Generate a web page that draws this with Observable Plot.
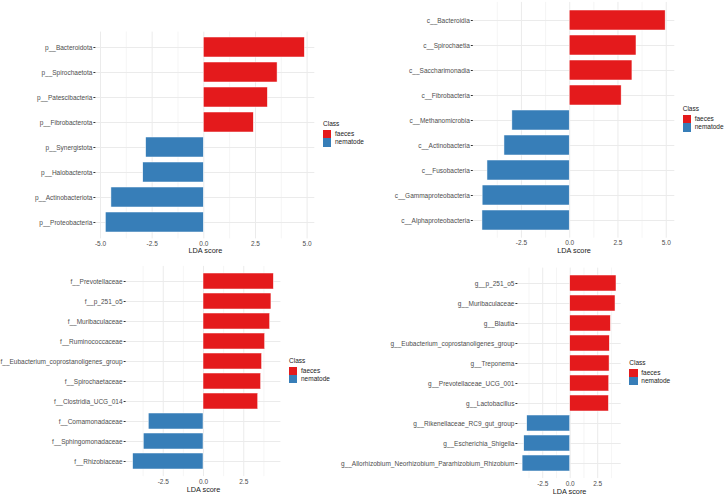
<!DOCTYPE html>
<html>
<head>
<meta charset="utf-8">
<script src="https://cdn.jsdelivr.net/npm/d3@7"></script>
<script src="https://cdn.jsdelivr.net/npm/@observablehq/plot@0.6"></script>
<style>
  html, body { margin: 0; padding: 0; background: #fff; }
  #chart { position: relative; width: 725px; height: 495px; overflow: hidden; font-family: "Liberation Sans", Arial, sans-serif; }
  #chart svg { position: absolute; left: 0; top: 0; }
  .legend { position: absolute; font-size: 6.5px; color: #1a1a1a; font-family: "Liberation Sans", Arial, sans-serif; }
</style>
</head>
<body>
<div id="chart"></div>
<script>
// ---- data ----
const classes = ["faeces", "nematode"];
const classColors = ["#E41A1C", "#377EB8"];

const p1Names = ["p__Bacteroidota","p__Spirochaetota","p__Patescibacteria","p__Fibrobacterota","p__Synergistota","p__Halobacterota","p__Actinobacteriota","p__Proteobacteria"];
const p1Scores = [4.89, 3.57, 3.10, 2.42, -2.79, -2.93, -4.47, -4.74];
const p1Class = ["faeces","faeces","faeces","faeces","nematode","nematode","nematode","nematode"];

const p2Names = ["c__Bacteroidia","c__Spirochaetia","c__Saccharimonadia","c__Fibrobacteria","c__Methanomicrobia","c__Actinobacteria","c__Fusobacteria","c__Gammaproteobacteria","c__Alphaproteobacteria"];
const p2Scores = [4.97, 3.46, 3.25, 2.69, -2.97, -3.38, -4.26, -4.51, -4.52];
const p2Class = ["faeces","faeces","faeces","faeces","nematode","nematode","nematode","nematode","nematode"];

const p3Names = ["f__Prevotellaceae","f__p_251_o5","f__Muribaculaceae","f__Ruminococcaceae","f__Eubacterium_coprostanoligenes_group","f__Spirochaetaceae","f__Clostridia_UCG_014","f__Comamonadaceae","f__Sphingomonadaceae","f__Rhizobiaceae"];
const p3Scores = [4.37, 4.22, 4.14, 3.83, 3.64, 3.58, 3.40, -3.40, -3.71, -4.37];
const p3Class = ["faeces","faeces","faeces","faeces","faeces","faeces","faeces","nematode","nematode","nematode"];

const p4Names = ["g__p_251_o5","g__Muribaculaceae","g__Blautia","g__Eubacterium_coprostanoligenes_group","g__Treponema","g__Prevotellaceae_UCG_001","g__Lactobacillus","g__Rikenellaceae_RC9_gut_group","g__Escherichia_Shigella","g__Allorhizobium_Neorhizobium_Pararhizobium_Rhizobium"];
const p4Scores = [4.21, 4.12, 3.70, 3.60, 3.58, 3.55, 3.52, -3.91, -4.18, -4.33];
const p4Class = ["faeces","faeces","faeces","faeces","faeces","faeces","faeces","nematode","nematode","nematode"];

const majorTicks = [-5, -2.5, 0, 2.5, 5];
const minorTicks = [-3.75, -1.25, 1.25, 3.75];
const xTitle = "LDA score";
const legendTitle = "Class";

// ---- layout (pixel frames) ----
const W = 725, H = 495;
const panels = [
  {names: p1Names, scores: p1Scores, cls: p1Class, frame: [95.4, 314.3, 31.6, 238.4], titleDy: 12, legend: [323, 124]},
  {names: p2Names, scores: p2Scores, cls: p2Class, frame: [472.8, 674.3, 1.9, 237.7], titleDy: 12, legend: [682.7, 109]},
  {names: p3Names, scores: p3Scores, cls: p3Class, frame: [125.6, 280.4, 265.9, 476.1], titleDy: 12.8, legend: [289, 360.7]},
  {names: p4Names, scores: p4Scores, cls: p4Class, frame: [517.4, 620.7, 267.6, 478.1], titleDy: 12.6, legend: [629.3, 362.7]}
];

const chart = document.getElementById("chart");

for (const p of panels) {
  const data = p.names.map((n, i) => ({name: n, score: p.scores[i], cls: p.cls[i]}));
  const lo = d3.min(p.scores), hi = d3.max(p.scores);
  const ex = 0.05 * (hi - lo);
  const domain = [lo - ex, hi + ex];
  const inDom = t => t >= domain[0] && t <= domain[1];
  const maj = majorTicks.filter(inDom), mnr = minorTicks.filter(inDom);
  const [L, R, T, B] = p.frame;
  const svg = Plot.plot({
    width: W, height: H,
    marginLeft: L, marginRight: W - R, marginTop: T, marginBottom: H - B,
    style: {fontFamily: "'Liberation Sans', Arial, sans-serif", fontSize: "6.5px", background: "transparent", overflow: "visible"},
    x: {domain},
    y: {domain: p.names, padding: 0.2},
    color: {domain: classes, range: classColors},
    marks: [
      Plot.gridX(mnr, {stroke: "#EBEBEB", strokeOpacity: 1, strokeWidth: 0.5}),
      Plot.gridX(maj, {stroke: "#EBEBEB", strokeOpacity: 1, strokeWidth: 1}),
      Plot.gridY({stroke: "#EBEBEB", strokeOpacity: 1, strokeWidth: 1}),
      Plot.barX(data, {x: "score", y: "name", fill: "cls", stroke: "white", strokeWidth: 0.5}),
      Plot.axisY({tickSize: 2, tickPadding: 1.5, stroke: "#333333", fill: "#4D4D4D", label: null}),
      Plot.axisX(maj, {tickSize: 0, tickPadding: 2.5, tickFormat: d => d.toFixed(1), fill: "#4D4D4D", label: null}),
      Plot.text([xTitle], {text: d => d, frameAnchor: "bottom", lineAnchor: "middle", dy: p.titleDy, fontSize: 7.3, fill: "#1a1a1a"})
    ]
  });
  chart.appendChild(svg);

  // legend
  const [lx, ly] = p.legend;
  const lg = document.createElement("div");
  lg.className = "legend";
  lg.style.left = lx + "px";
  lg.style.top = (ly - 4) + "px";
  let html = `<div style="height:8px;line-height:8px;">${legendTitle}</div><div style="height:2px"></div>`;
  classes.forEach((c, i) => {
    html += `<div style="display:flex;align-items:center;height:8.3px;"><span style="display:inline-block;width:8.3px;height:8.3px;background:${classColors[i]};"></span><span style="margin-left:3.7px;line-height:8.3px;">${c}</span></div>`;
  });
  lg.innerHTML = html;
  chart.appendChild(lg);
}
</script>
</body>
</html>
